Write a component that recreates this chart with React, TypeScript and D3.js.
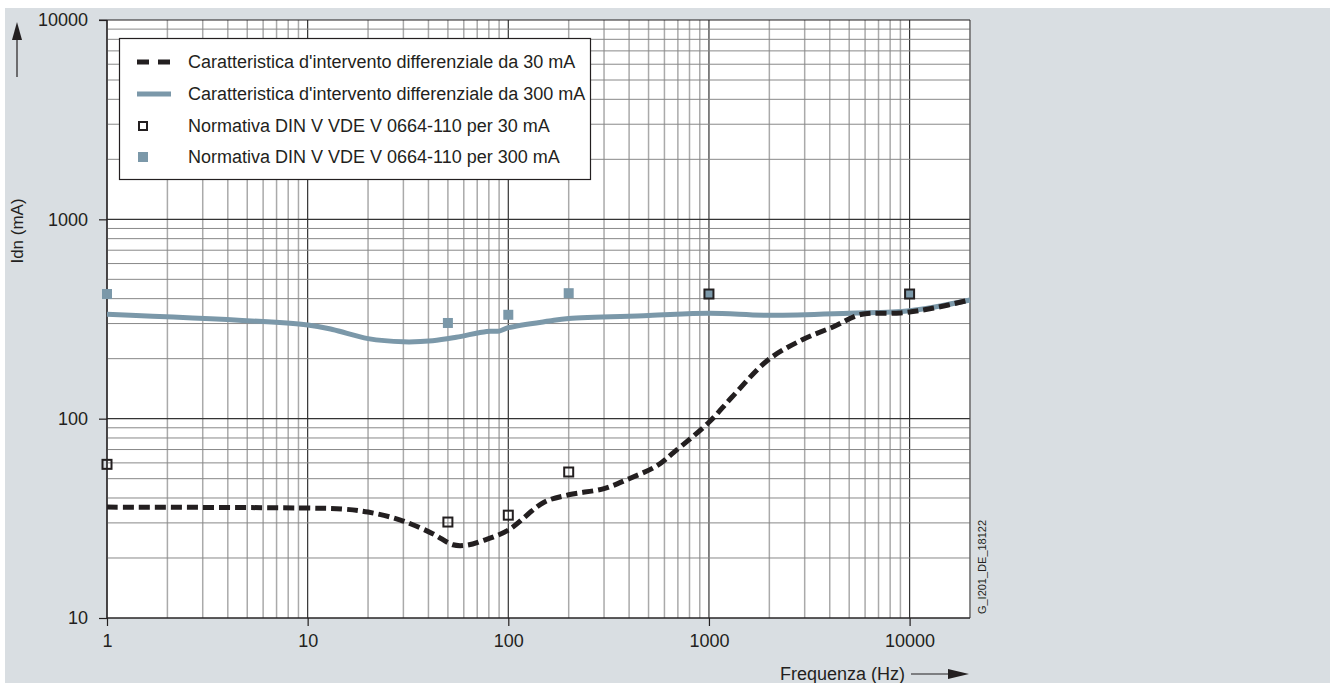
import React, { useEffect, useRef } from 'react';
import * as d3 from 'd3';

// curve readings (Hz, mA)
const curve30: [number, number][] = [
  [1, 36], [10, 35.6], [15, 35.2], [20, 34], [29, 31], [42, 26.5], [53, 23.3],
  [62, 23.2], [75, 24.5], [100, 27.6], [150, 38], [200, 41.5], [300, 44.6], [400, 50],
  [550, 58], [670, 68], [1000, 96], [1300, 128], [1970, 197], [2900, 248],
  [4200, 290], [5700, 333], [9000, 339], [13000, 358], [20000, 394],
];
const curve300: [number, number][] = [
  [1, 334], [10, 295], [13.3, 280], [20, 252], [30, 243], [42, 246], [55, 256],
  [78, 274], [90, 275], [100, 286], [160, 309], [200, 318], [500, 329], [1000, 338],
  [2000, 330], [5000, 338], [10000, 348], [20000, 394],
];
const norm30: [number, number][] = [[1, 59], [50, 30.3], [100, 32.8], [200, 54], [1000, 422], [10000, 422]];
const norm300: [number, number][] = [[1, 422], [50, 302], [100, 332], [200, 426], [1000, 422], [10000, 422]];

const xTicks = [1, 10, 100, 1000, 10000];
const yTicks = [10, 100, 1000, 10000];
const legendLabels = [
  "Caratteristica d'intervento differenziale da 30 mA",
  "Caratteristica d'intervento differenziale da 300 mA",
  'Normativa DIN V VDE V 0664-110 per 30 mA',
  'Normativa DIN V VDE V 0664-110 per 300 mA',
];

const W = 1330;
const H = 683;
const BLUE = '#7b98a9';
const DARK = '#231f20';
const FONT = '"Liberation Sans", Arial, sans-serif';

export default function App() {
  const ref = useRef<SVGSVGElement>(null);

  useEffect(() => {
    const svg = d3.select(ref.current);
    svg.selectAll('*').remove();

    const x = d3.scaleLog().domain([1, 20000]).range([107, 970]);
    const y = d3.scaleLog().domain([10, 10000]).range([618, 20]);

    svg.append('rect').attr('x', 5).attr('y', 8).attr('width', W - 5).attr('height', H - 8).attr('fill', '#d9dee2');
    svg.append('rect').attr('x', x(1)).attr('y', y(10000)).attr('width', x(20000) - x(1)).attr('height', y(10) - y(10000)).attr('fill', '#fff');

    // grid
    const minor = (max: number, min: number) => {
      const v: number[] = [];
      for (let d = min; d < max; d *= 10) for (let m = 1; m <= 9; m++) if (d * m <= max) v.push(d * m);
      return v;
    };
    const grid = svg.append('g');
    minor(20000, 1).forEach(f => {
      const major = xTicks.includes(f);
      grid.append('line').attr('x1', x(f)).attr('x2', x(f)).attr('y1', y(10000)).attr('y2', y(10))
        .attr('stroke', major ? '#333' : '#aaa').attr('stroke-width', major ? 1.2 : 1.5);
    });
    minor(10000, 10).forEach(v => {
      const major = yTicks.includes(v);
      grid.append('line').attr('x1', x(1)).attr('x2', x(20000)).attr('y1', y(v)).attr('y2', y(v))
        .attr('stroke', major ? '#333' : '#888').attr('stroke-width', major ? 1.2 : 1);
    });
    grid.append('line').attr('x1', x(20000)).attr('x2', x(20000)).attr('y1', y(10000)).attr('y2', y(10)).attr('stroke', '#555');

    // axes
    const ax = svg.append('g').attr('transform', `translate(0,${y(10)})`)
      .call(d3.axisBottom(x).tickValues(xTicks).tickSize(8).tickPadding(8).tickFormat(d3.format('d')));
    const ay = svg.append('g').attr('transform', `translate(${x(1)},0)`)
      .call(d3.axisLeft(y).tickValues(yTicks).tickSize(8).tickPadding(11).tickFormat(d3.format('d')));
    [ax, ay].forEach(g => {
      g.select('.domain').attr('stroke', DARK).attr('stroke-width', 1.2);
      g.selectAll('.tick line').attr('stroke', DARK).attr('stroke-width', 1.2);
      g.selectAll('.tick text').attr('fill', DARK).style('font-family', FONT).style('font-size', '18px');
    });
    ax.select('.domain').attr('d', `M${x(1)},0H${x(20000)}`);
    ay.select('.domain').attr('d', `M0,${y(10)}V${y(10000)}`);
    svg.append('line').attr('x1', x(1) - 8).attr('x2', x(20000)).attr('y1', y(10000)).attr('y2', y(10000)).attr('stroke', DARK).attr('stroke-width', 1.2);

    // legend box
    const lg = svg.append('g');
    lg.append('rect').attr('x', 119.5).attr('y', 38.5).attr('width', 471).attr('height', 141)
      .attr('fill', '#fff').attr('stroke', DARK).attr('stroke-width', 1.2);
    const rows = [62, 94, 126, 157];
    lg.append('line').attr('x1', 137).attr('x2', 170).attr('y1', rows[0]).attr('y2', rows[0])
      .attr('stroke', DARK).attr('stroke-width', 5).attr('stroke-dasharray', '12 9');
    lg.append('line').attr('x1', 137).attr('x2', 171).attr('y1', rows[1]).attr('y2', rows[1])
      .attr('stroke', BLUE).attr('stroke-width', 5);
    lg.append('rect').attr('x', 139).attr('y', rows[2] - 4).attr('width', 8).attr('height', 8)
      .attr('fill', 'none').attr('stroke', DARK).attr('stroke-width', 2);
    lg.append('rect').attr('x', 138).attr('y', rows[3] - 5).attr('width', 10).attr('height', 10).attr('fill', BLUE);
    legendLabels.forEach((t, i) => {
      lg.append('text').attr('x', 188).attr('y', rows[i]).attr('dy', '0.35em').text(t)
        .attr('fill', DARK).style('font-family', FONT).style('font-size', '18px');
    });

    // curves
    const line = d3.line<[number, number]>().x(d => x(d[0])).y(d => y(d[1])).curve(d3.curveCatmullRom.alpha(0.5));
    svg.append('path').attr('d', line(curve300)).attr('fill', 'none').attr('stroke', BLUE).attr('stroke-width', 5);
    svg.append('path').attr('d', line(curve30)).attr('fill', 'none').attr('stroke', DARK).attr('stroke-width', 5)
      .attr('stroke-dasharray', '11 5');

    svg.append('g').selectAll('rect').data(norm300).join('rect')
      .attr('x', d => x(d[0]) - 5).attr('y', d => y(d[1]) - 5).attr('width', 10).attr('height', 10).attr('fill', BLUE);
    svg.append('g').selectAll('rect').data(norm30).join('rect')
      .attr('x', d => x(d[0]) - 4.5).attr('y', d => y(d[1]) - 4.5).attr('width', 9).attr('height', 9)
      .attr('fill', 'none').attr('stroke', DARK).attr('stroke-width', 2);

    // axis titles and arrows
    svg.append('text').attr('transform', `translate(23,231) rotate(-90)`).attr('text-anchor', 'middle')
      .text('Idn (mA)').attr('fill', DARK).style('font-family', FONT).style('font-size', '17px');
    svg.append('line').attr('x1', 17).attr('x2', 17).attr('y1', 77).attr('y2', 38).attr('stroke', DARK).attr('stroke-width', 1.2);
    svg.append('path').attr('d', 'M17,22L12,40L22,40Z').attr('fill', DARK);

    svg.append('text').attr('x', 905).attr('y', 674).attr('dy', '0.35em').attr('text-anchor', 'end')
      .text('Frequenza (Hz)').attr('fill', DARK).style('font-family', FONT).style('font-size', '18px');
    svg.append('line').attr('x1', 911).attr('x2', 952).attr('y1', 674).attr('y2', 674).attr('stroke', DARK).attr('stroke-width', 1.2);
    svg.append('path').attr('d', 'M969,674L948,669L948,679Z').attr('fill', DARK);

    svg.append('text').attr('transform', `translate(986,567) rotate(-90)`).attr('text-anchor', 'middle')
      .text('G_I201_DE_18122').attr('fill', DARK).style('font-family', FONT).style('font-size', '11px');
  }, []);

  return (
    <svg ref={ref} width={W} height={H} style={{ position: 'absolute', left: 0, top: 0 }} />
  );
}
